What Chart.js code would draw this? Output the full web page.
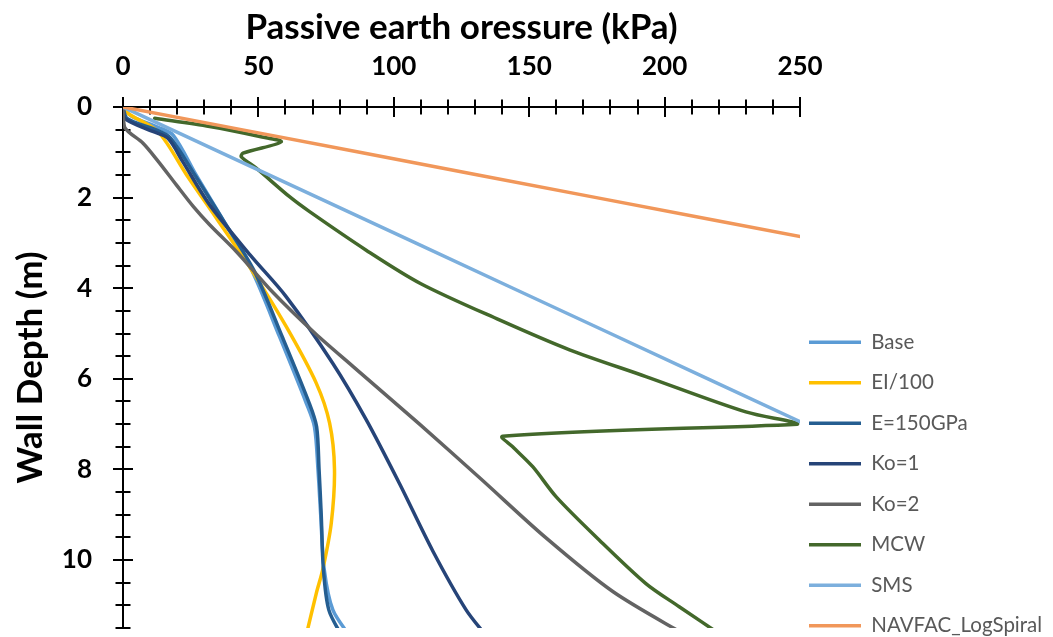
<!DOCTYPE html>
<html>
<head>
<meta charset="utf-8">
<title>Passive earth pressure vs wall depth</title>
<script src="https://cdn.jsdelivr.net/npm/chart.js@4.4.0/dist/chart.umd.min.js"></script>
<style>
  html, body { margin: 0; padding: 0; background: #fff; }
  #wrap { position: relative; width: 1053px; height: 637px; }
</style>
</head>
<body>
<div id="wrap"><canvas id="chart" width="1053" height="637"></canvas></div>
<script>
/* Passive earth pressure profiles against wall depth
   x = pressure (kPa, axis on top), y = depth (m, reversed) */

// --- Axis ticks ---
const xTickValues = [0, 50, 100, 150, 200, 250];
const yTickValues = [0, 2, 4, 6, 8, 10];
const X_MAX = 250;
const Y_MAX = 11.5;

// --- Series (depth in m, pressure in kPa) ---
const baseDepth    = [0, 0.2, 0.45, 0.62, 1.5, 2.5, 3.6, 5.07, 6.54, 7.06, 8.0, 9.0, 10.2, 11.1, 11.7];
const basePressure = [0, 3, 13, 18.5, 27, 37, 47.5, 57.8, 67.7, 70.7, 72, 73, 74.3, 77.5, 84];

const eiDepth    = [0, 0.15, 0.55, 1.5, 2.5, 3.6, 4.85, 6.1, 6.98, 8.0, 9.19, 10.2, 10.73, 11.7];
const eiPressure = [0, 2, 13, 23.5, 35, 47.5, 60.3, 71.4, 76.3, 78.1, 76.9, 73.8, 71.4, 67.5];

const e150Depth    = [0, 0.25, 0.5, 0.68, 1.5, 2.5, 3.6, 5.07, 6.54, 7.06, 8.0, 9.0, 10.2, 11.1, 11.7];
const e150Pressure = [0, 1.5, 12, 17.5, 26.5, 37, 48.3, 58.8, 68.8, 71.5, 72.4, 73.2, 74, 76, 81];

const ko1Depth    = [0, 0.25, 0.54, 0.69, 1.2, 2.16, 3.27, 4.19, 5.66, 6.9, 8.3, 9.8, 11.1, 11.7];
const ko1Pressure = [0, 0.6, 11, 16.6, 22, 32, 47, 60.3, 77.5, 89.8, 102, 114.4, 126.7, 134.5];

const ko2Depth    = [0, 0.45, 0.8, 1.2, 1.72, 2.2, 2.6, 3.2, 4.1, 5.0, 5.73, 7.0, 8.2, 9.5, 10.7, 11.7];
const ko2Pressure = [0, 0.6, 7.4, 13, 19.7, 26, 32, 42, 55.5, 71, 85, 109.5, 132, 156, 181, 209];

const mcwDepth    = [0.25, 0.43, 0.65, 0.77, 1.02, 1.1, 1.35, 1.98, 2.31, 3.16, 3.9, 4.7, 5.36, 5.95, 6.73, 6.95, 7.0, 7.27, 7.5, 7.94, 8.6, 9.49, 10.52, 11.03, 11.7];
const mcwPressure = [11.7, 32, 50.5, 58.4, 44.3, 43.7, 49.2, 61.5, 68.9, 89.8, 110, 139, 164.9, 193.1, 230, 247.2, 249, 140.2, 143.9, 151.3, 159.9, 174.7, 193.1, 205.4, 222];

const smsDepth    = [0, 2, 4, 6, 8];
const smsPressure = [0, 72, 144, 216, 288];

const navfacDepth    = [0, 1, 2, 3];
const navfacPressure = [0, 87.4, 174.8, 262.2];

const seriesNames  = ['Base', 'EI/100', 'E=150GPa', 'Ko=1', 'Ko=2', 'MCW', 'SMS', 'NAVFAC_LogSpiral'];
const seriesColors = ['#5B9BD5', '#FFC000', '#255E91', '#264478', '#636363', '#43682B', '#7CAFDD', '#F1975A'];
const seriesDepths = [baseDepth, eiDepth, e150Depth, ko1Depth, ko2Depth, mcwDepth, smsDepth, navfacDepth];
const seriesValues = [basePressure, eiPressure, e150Pressure, ko1Pressure, ko2Pressure, mcwPressure, smsPressure, navfacPressure];

// --- Layout ---
const PLOT_LEFT = 123;
const PLOT_TOP = 107;
const LEGEND_WIDTH = 253;
const LEGEND_DX = -11;
const LEGEND_DY = 28;
const FONT = 'Lato';

// tick marks that cross the axis lines (major + minor)
const crossTicks = {
  id: 'crossTicks',
  beforeDatasetsDraw(chart) {
    const { ctx, chartArea, scales: { x, y } } = chart;
    ctx.save();
    ctx.strokeStyle = '#000';
    ctx.lineWidth = 2;
    for (let v = 0; v <= X_MAX + 1e-6; v += 10) {
      const len = xTickValues.includes(v) ? 10 : 7.5;
      const px = Math.round(x.getPixelForValue(v));
      ctx.beginPath();
      ctx.moveTo(px, chartArea.top - len);
      ctx.lineTo(px, chartArea.top + len);
      ctx.stroke();
    }
    for (let v = 0; v <= Y_MAX + 1e-6; v += 0.5) {
      const len = yTickValues.includes(v) ? 10 : 7.5;
      const py = Math.round(y.getPixelForValue(v));
      ctx.beginPath();
      ctx.moveTo(chartArea.left - len, py);
      ctx.lineTo(chartArea.left + len, py);
      ctx.stroke();
    }
    ctx.restore();
  }
};

// move the legend block down / left to sit beside the lower half of the plot
const legendNudge = {
  id: 'legendNudge',
  afterLayout(chart) {
    const lg = chart.legend;
    if (!lg) return;
    lg.left += LEGEND_DX; lg.right += LEGEND_DX;
    lg.top += LEGEND_DY; lg.bottom += LEGEND_DY;
  }
};

const datasets = seriesNames.map((name, i) => ({
  label: name,
  data: seriesDepths[i].map((d, k) => ({ x: seriesValues[i][k], y: d })),
  borderColor: seriesColors[i],
  backgroundColor: seriesColors[i],
  borderWidth: 3.5,
  borderCapStyle: 'round',
  borderJoinStyle: 'round',
  showLine: true,
  tension: 0.3,
  pointRadius: 0,
  pointHoverRadius: 0,
  order: -i,
}));

new Chart(document.getElementById('chart'), {
  type: 'scatter',
  data: { datasets },
  plugins: [crossTicks, legendNudge],
  options: {
    responsive: false,
    animation: false,
    layout: { padding: { bottom: 9 } },
    scales: {
      x: {
        type: 'linear',
        position: 'top',
        min: 0,
        max: X_MAX,
        afterBuildTicks: s => { s.ticks = xTickValues.map(v => ({ value: v })); },
        afterFit: s => { s.height = PLOT_TOP; },
        ticks: { color: '#000', padding: 25, font: { family: FONT, size: 26, weight: 'bold' } },
        grid: { display: false, drawTicks: false, tickLength: 0 },
        border: { display: true, color: '#000', width: 2 },
        title: {
          display: true,
          text: 'Passive earth oressure (kPa)',
          color: '#000',
          font: { family: FONT, size: 35, weight: 'bold' },
          padding: { top: 7, bottom: 0 },
        },
      },
      y: {
        type: 'linear',
        reverse: true,
        min: 0,
        max: Y_MAX,
        afterBuildTicks: s => { s.ticks = yTickValues.map(v => ({ value: v })); },
        afterFit: s => { s.width = PLOT_LEFT; s.paddingTop = 0; s.paddingBottom = 0; },
        ticks: { color: '#000', padding: 31, font: { family: FONT, size: 26, weight: 'bold' } },
        grid: { display: false, drawTicks: false, tickLength: 0 },
        border: { display: true, color: '#000', width: 2 },
        title: {
          display: true,
          text: 'Wall Depth (m)',
          color: '#000',
          font: { family: FONT, size: 35, weight: 'bold' },
          padding: { top: 10, bottom: 0 },
        },
      },
    },
    plugins: {
      tooltip: { enabled: false },
      legend: {
        position: 'right',
        align: 'end',
        maxWidth: LEGEND_WIDTH,
        labels: {
          usePointStyle: true,
          pointStyle: 'line',
          pointStyleWidth: 52,
          padding: 20,
          color: '#595959',
          font: { family: FONT, size: 20.5 },
          sort: (a, b) => a.datasetIndex - b.datasetIndex,
        },
      },
    },
  },
});
</script>
</body>
</html>
